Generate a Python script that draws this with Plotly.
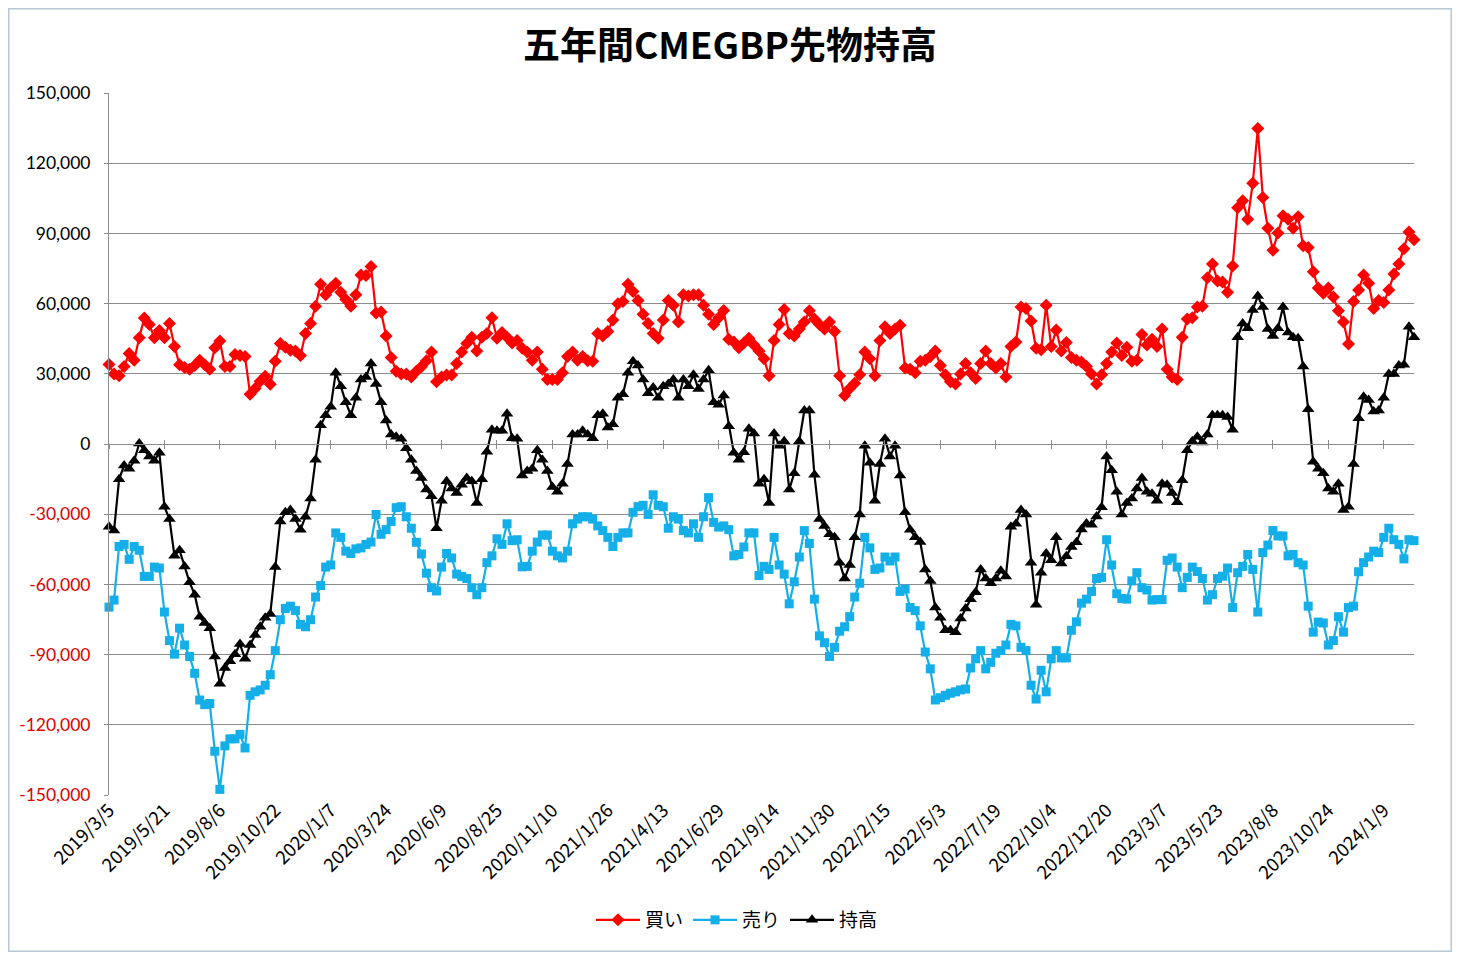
import plotly.graph_objects as go
import pandas as pd

# ---------------- data (contracts) ----------------
dates = pd.date_range("2019-03-05", periods=260, freq="7D")
date_labels = [f"{d.year}/{d.month}/{d.day}" for d in dates]

buy = [34000, 29900, 29200, 33100, 38700, 35800, 45400, 53800, 51100, 45400,
       48500, 45400, 51500, 41700, 33900, 32700, 31900, 33500, 35800, 33900,
       31900, 41100, 44000, 33100, 33100, 38200, 37800, 37400, 21300, 23700,
       26800, 29000, 25500, 35400, 42900, 41300, 40100, 39700, 37800, 47200,
       51500, 58900, 68300, 63800, 66700, 68700, 64800, 61800, 58900, 63800,
       72200, 72000, 75900, 56000, 56400, 46200, 37000, 31100, 29900, 29900,
       28600, 31100, 33000, 35600, 39300, 26600, 28600, 29500, 29500, 34400,
       39300, 42900, 45600, 39700, 45600, 47200, 54000, 45200, 47600, 45600,
       43200, 44200, 40900, 39300, 35800, 39300, 31900, 27600, 27600, 27600,
       30500, 37400, 39300, 35800, 37400, 35600, 35400, 47200, 46200, 48100,
       53000, 59900, 60900, 68300, 65200, 61300, 55400, 51500, 47200, 45200,
       53000, 61300, 59300, 52100, 63800, 63200, 63800, 63800, 59300, 55400,
       51100, 54000, 57000, 44800, 43600, 41100, 43200, 45200, 42300, 39700,
       36400, 29200, 44200, 51100, 57500, 47200, 46200, 49100, 52100, 56900,
       53400, 51100, 49100, 52100, 48100, 29200, 20700, 23700, 26000, 29600,
       39300, 36400, 29200, 44200, 50100, 47200, 49100, 50700, 32500, 31900,
       30500, 35400, 35800, 37400, 39700, 33500, 29600, 26600, 25600, 29900,
       34400, 30500, 28000, 34400, 39700, 34400, 32500, 34400, 28600, 41700,
       43600, 58500, 57900, 52600, 40900, 40300, 59300, 41700, 48700, 39700,
       43400, 37000, 35800, 35000, 33100, 29900, 25600, 29600, 34400, 39300,
       43200, 37800, 41300, 35400, 35800, 46800, 42300, 44800, 41700, 49100,
       31900, 28600, 27600, 45600, 53400, 54000, 58500, 58900, 71000, 76900,
       69700, 69200, 64800, 76100, 101000, 103900, 96100, 111400, 134800, 105300,
       92200, 82800, 90200, 97500, 96100, 92200, 97100, 84700, 84000, 73600,
       66700, 64400, 66700, 62800, 56900, 52100, 42700, 60900, 65800, 72200,
       68700, 57900, 61300, 60500, 65800, 72600, 76900, 83400, 90600, 87300]

sell = [-69700, -66700, -43800, -42900, -49300, -43800, -45400, -56600, -56600, -52600,
        -53000, -71800, -84000, -89800, -78700, -85900, -90800, -98000, -109400, -111400,
        -110900, -131300, -147600, -129000, -126000, -126000, -124100, -129900, -107400, -105900,
        -105100, -103100, -98600, -88300, -75100, -70300, -69300, -71200, -77100, -78100,
        -75100, -65400, -60500, -52600, -51700, -38000, -39900, -45800, -46800, -44800,
        -44400, -42900, -41900, -30100, -38600, -36600, -33100, -27200, -26800, -31100,
        -36000, -42000, -47000, -55200, -61400, -62800, -52600, -46800, -48700, -55600,
        -56600, -57500, -61400, -64400, -61400, -50700, -47800, -40500, -42900, -34100,
        -41300, -40900, -52500, -52300, -45800, -41900, -38900, -38900, -45800, -47800,
        -48700, -45800, -34100, -32100, -31100, -31100, -32100, -35000, -37000, -39900,
        -43800, -39900, -38000, -38000, -29200, -26800, -26200, -30100, -21700, -26200,
        -26800, -36000, -31100, -32100, -37000, -38000, -34100, -39900, -31100, -22900,
        -33500, -35500, -35000, -36600, -47800, -47200, -44000, -38000, -38000, -56200,
        -52300, -53600, -39900, -51700, -55600, -68300, -58900, -48300, -37000, -42500,
        -66300, -82000, -84900, -90800, -86900, -80000, -78100, -73800, -65400, -59500,
        -39900, -44400, -53600, -53000, -48300, -50000, -48300, -63000, -62000, -69900,
        -71200, -77700, -88900, -96100, -109400, -108400, -107400, -106500, -105900, -105100,
        -104700, -95700, -91800, -88300, -96100, -93300, -89400, -88300, -85900, -77100,
        -77700, -86900, -88300, -103100, -109000, -96700, -105900, -91800, -88300, -91400,
        -91400, -79600, -76000, -68000, -66300, -63000, -57500, -57000, -40900, -51700,
        -64000, -66000, -66300, -58500, -55000, -61400, -62400, -66700, -66500, -66500,
        -49700, -48700, -52600, -61400, -57000, -52600, -54500, -57500, -66700, -64400,
        -57500, -56500, -53000, -69900, -55000, -52300, -47200, -53600, -71800, -46400,
        -43200, -37000, -39300, -39300, -47800, -47200, -50700, -51700, -69300, -80400,
        -76100, -76500, -85900, -84000, -73800, -80400, -69900, -69300, -54600, -50700,
        -48300, -45800, -46400, -39900, -36000, -40900, -42900, -49100, -40900, -41300]

net = [-35400, -37000, -15100, -9200, -10600, -7200, 200, -2700, -5300, -7200,
       -3700, -26800, -32100, -47800, -45400, -52300, -59100, -64400, -73800, -76500,
       -78700, -90800, -102500, -95700, -92800, -89800, -85500, -91800, -85900, -81600,
       -78100, -74200, -72700, -52600, -33100, -29200, -28200, -32100, -36600, -31100,
       -23300, -6700, 8000, 12300, 15900, 30500, 24700, 17800, 12300, 19800,
       27600, 28600, 34400, 25600, 17800, 10000, 4100, 3100, 2200, -1800,
       -6700, -11500, -14500, -19400, -22300, -36000, -24300, -15900, -19000, -20900,
       -17400, -14500, -15900, -25200, -15100, -3300, 6100, 5700, 5700, 12900,
       2500, 2200, -13500, -11500, -10600, -2700, -6700, -11500, -18400, -20400,
       -17000, -8600, 4100, 4100, 5700, 4100, 2500, 12300, 12900, 7000,
       8400, 19800, 21300, 30500, 35400, 33500, 27600, 21700, 24100, 19800,
       24700, 25600, 27600, 19800, 27600, 24700, 29600, 23500, 27600, 31500,
       17800, 16800, 20700, 7600, -3700, -6700, -3500, 6500, 4500, -17000,
       -15100, -25200, 4500, -800, 1200, -19400, -12500, 1200, 14300, 14300,
       -13100, -32100, -35000, -38600, -39900, -50700, -57500, -51700, -39900, -30100,
       -800, -8000, -24300, -8600, 2200, -5300, -800, -13500, -29200, -36600,
       -39900, -41900, -53600, -58500, -69900, -74200, -79600, -79600, -80400, -74600,
       -70300, -66300, -63400, -53600, -57500, -59500, -57500, -54200, -56600, -35400,
       -34100, -28200, -30100, -50700, -68700, -55000, -46800, -49700, -39900, -51100,
       -48000, -44000, -42000, -36500, -34000, -34500, -31000, -27000, -5300, -11200,
       -20400, -30100, -25200, -23300, -19000, -14500, -20400, -21300, -24300, -17000,
       -17400, -20900, -24900, -15500, -2700, 1200, 3100, 600, 4100, 12300,
       12300, 12300, 11500, 6100, 45600, 51500, 49500, 57300, 63200, 58500,
       49100, 46200, 49500, 58500, 47600, 45600, 45200, 33100, 14900, -7600,
       -10600, -12500, -19000, -20400, -17000, -28200, -26800, -8600, 11000, 20200,
       18800, 13900, 14300, 19800, 29900, 29900, 33500, 33900, 50100, 45600]

series_names = ["買い", "売り", "持高"]
y_ticks = [150000, 120000, 90000, 60000, 30000, 0, -30000, -60000, -90000, -120000, -150000]
label_step = 11

# ---------------- styling ----------------
RED = "#FF0000"
BLUE = "#14AEE8"
BLACK = "#000000"
GRID = "#8C8C8C"

y_text = []
for v in y_ticks:
    s = f"{v:,}"
    if v < 0:
        s = f"<span style='fill:#E00000;color:#E00000'>{s}</span>"
    y_text.append(s)

x_tickvals = date_labels[::label_step]
idx_ticks = list(range(0, len(date_labels), label_step))

fig = go.Figure()
fig.add_trace(go.Scatter(
    x=date_labels, y=buy, name=series_names[0], mode="lines+markers",
    line=dict(color=RED, width=2.2),
    marker=dict(symbol="diamond", size=10, color=RED),
    cliponaxis=False))
fig.add_trace(go.Scatter(
    x=date_labels, y=sell, name=series_names[1], mode="lines+markers",
    line=dict(color=BLUE, width=2.2),
    marker=dict(symbol="square", size=9, color=BLUE),
    cliponaxis=False))
fig.add_trace(go.Scatter(
    x=date_labels, y=net, name=series_names[2], mode="lines+markers",
    line=dict(color=BLACK, width=2.2),
    marker=dict(symbol="triangle-up", size=11, color=BLACK),
    cliponaxis=False))

# helper (empty) traces so the cross axis at y = 0 gets drawn
for ax in ("x2", "x3"):
    fig.add_trace(go.Scatter(x=[], y=[], xaxis=ax, yaxis="y",
                             showlegend=False, hoverinfo="skip"))

W, H = 1444, 944
L, R, T, B = 101, 38, 85, 157
pw, ph = W - L - R, H - T - B


def px_x(fx):
    return (fx - L) / pw


def px_y(fy):
    return (H - B - fy) / ph


fig.update_layout(
    width=W, height=H,
    margin=dict(l=L, r=R, t=T, b=B, pad=0),
    paper_bgcolor="white", plot_bgcolor="white",
    font=dict(family="Lato, 'Noto Sans CJK JP', sans-serif", size=16, color="black"),
    title=dict(text="<b>五年間CMEGBP先物持高</b>", x=0.5, xref="container",
               y=1 - 38 / H, yref="container", xanchor="center", yanchor="middle",
               font=dict(family="'Noto Sans CJK JP', sans-serif", size=37, color="black")),
    showlegend=True,
    legend=dict(orientation="h", x=px_x(583), xanchor="left", y=px_y(912), yanchor="middle",
                font=dict(family="'Noto Sans CJK JP', sans-serif", size=19, color="black"),
                itemwidth=44, tracegroupgap=0, bgcolor="rgba(0,0,0,0)"),
    xaxis=dict(type="category", range=[0, len(date_labels) - 1],
               tickvals=x_tickvals, ticktext=x_tickvals, tickangle=-45,
               tickfont=dict(family="'Noto Sans CJK JP', sans-serif", size=18.5, color="black"),
               showgrid=False, zeroline=False, showline=False, ticks=""),
    xaxis2=dict(overlaying="x", anchor="free", position=0.5, range=[0, len(date_labels) - 1],
                tickvals=idx_ticks, ticks="outside", ticklen=4, tickcolor=GRID,
                showticklabels=False, showgrid=False, zeroline=False,
                showline=True, linecolor=GRID, linewidth=1),
    xaxis3=dict(overlaying="x", anchor="free", position=0.5, range=[0, len(date_labels) - 1],
                tickvals=idx_ticks, ticks="inside", ticklen=4, tickcolor=GRID,
                showticklabels=False, showgrid=False, zeroline=False, showline=False),
    yaxis=dict(range=[-150000, 150000], tickvals=y_ticks, ticktext=y_text,
               tickfont=dict(family="Lato, sans-serif", size=17.5, color="black"),
               showgrid=True, gridcolor=GRID, gridwidth=1, zeroline=False,
               showline=True, linecolor=GRID, linewidth=1,
               ticks="outside", ticklen=4, tickcolor=GRID, ticklabelstandoff=10),
)

# chart border (Excel chart area frame)
fig.add_shape(type="rect", xref="paper", yref="paper",
              x0=px_x(0.8), x1=px_x(1443.2), y0=px_y(943.2), y1=px_y(0.8),
              line=dict(color="#B8C7D6", width=1.5), fillcolor="rgba(0,0,0,0)", layer="below")

fig.write_html("out.html")
